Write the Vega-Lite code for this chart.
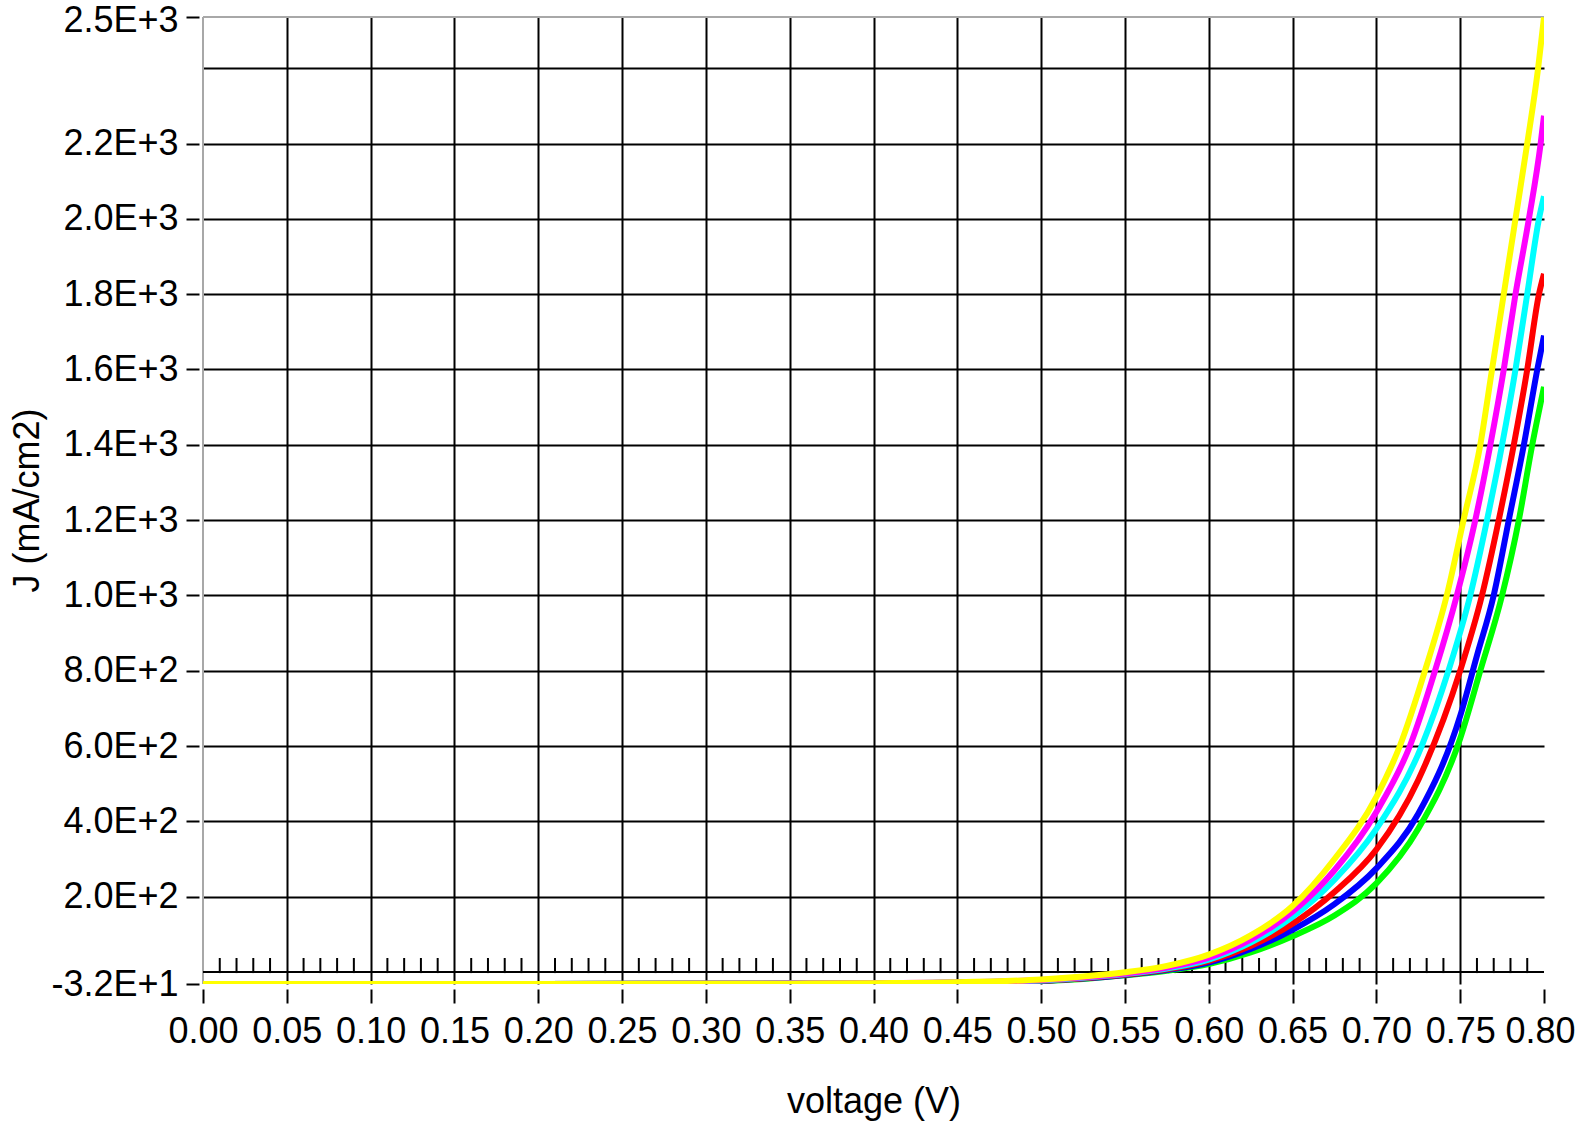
{
  "$schema": "https://vega.github.io/schema/vega-lite/v6.json",
  "width": 1341,
  "height": 967,
  "autosize": "none",
  "padding": {"left": 203, "top": 17, "right": 31, "bottom": 142},
  "background": "white",
  "config": {"view": {"stroke": null}, "font": "Liberation Sans"},
  "datasets": {
    "curves": [
      {"s": "green", "v": 0, "j": -32}, {"s": "green", "v": 0.1, "j": -32}, {"s": "green", "v": 0.2, "j": -31.9}, {"s": "green", "v": 0.3, "j": -31.3}, {"s": "green", "v": 0.35, "j": -31}, {"s": "green", "v": 0.4, "j": -30.4}, {"s": "green", "v": 0.45, "j": -29.2}, {"s": "green", "v": 0.5, "j": -24.5}, {"s": "green", "v": 0.525, "j": -18.5}, {"s": "green", "v": 0.55, "j": -9}, {"s": "green", "v": 0.575, "j": 3}, {"s": "green", "v": 0.6, "j": 21}, {"s": "green", "v": 0.625, "j": 52}, {"s": "green", "v": 0.65, "j": 95}, {"s": "green", "v": 0.675, "j": 150}, {"s": "green", "v": 0.7, "j": 235}, {"s": "green", "v": 0.725, "j": 380}, {"s": "green", "v": 0.75, "j": 620}, {"s": "green", "v": 0.762, "j": 800}, {"s": "green", "v": 0.775, "j": 1000}, {"s": "green", "v": 0.785, "j": 1200}, {"s": "green", "v": 0.793, "j": 1400}, {"s": "green", "v": 0.8, "j": 1554},
      {"s": "blue", "v": 0, "j": -32}, {"s": "blue", "v": 0.1, "j": -32}, {"s": "blue", "v": 0.2, "j": -31.9}, {"s": "blue", "v": 0.3, "j": -31.5}, {"s": "blue", "v": 0.35, "j": -31.1}, {"s": "blue", "v": 0.4, "j": -30.3}, {"s": "blue", "v": 0.45, "j": -29}, {"s": "blue", "v": 0.5, "j": -24}, {"s": "blue", "v": 0.525, "j": -17.5}, {"s": "blue", "v": 0.55, "j": -8}, {"s": "blue", "v": 0.575, "j": 5}, {"s": "blue", "v": 0.6, "j": 25}, {"s": "blue", "v": 0.625, "j": 61}, {"s": "blue", "v": 0.65, "j": 112}, {"s": "blue", "v": 0.675, "j": 180}, {"s": "blue", "v": 0.7, "j": 275}, {"s": "blue", "v": 0.725, "j": 420}, {"s": "blue", "v": 0.75, "j": 680}, {"s": "blue", "v": 0.76, "j": 840}, {"s": "blue", "v": 0.77, "j": 1000}, {"s": "blue", "v": 0.779, "j": 1200}, {"s": "blue", "v": 0.788, "j": 1400}, {"s": "blue", "v": 0.796, "j": 1600}, {"s": "blue", "v": 0.8, "j": 1690},
      {"s": "red", "v": 0, "j": -32}, {"s": "red", "v": 0.1, "j": -32}, {"s": "red", "v": 0.2, "j": -31.9}, {"s": "red", "v": 0.3, "j": -31.5}, {"s": "red", "v": 0.35, "j": -31.1}, {"s": "red", "v": 0.4, "j": -30.2}, {"s": "red", "v": 0.45, "j": -28.5}, {"s": "red", "v": 0.5, "j": -23}, {"s": "red", "v": 0.525, "j": -16.5}, {"s": "red", "v": 0.55, "j": -7}, {"s": "red", "v": 0.575, "j": 7}, {"s": "red", "v": 0.6, "j": 29}, {"s": "red", "v": 0.625, "j": 69}, {"s": "red", "v": 0.65, "j": 128}, {"s": "red", "v": 0.675, "j": 212}, {"s": "red", "v": 0.7, "j": 325}, {"s": "red", "v": 0.725, "j": 510}, {"s": "red", "v": 0.75, "j": 800}, {"s": "red", "v": 0.763, "j": 1000}, {"s": "red", "v": 0.773, "j": 1200}, {"s": "red", "v": 0.782, "j": 1400}, {"s": "red", "v": 0.79, "j": 1600}, {"s": "red", "v": 0.797, "j": 1800}, {"s": "red", "v": 0.8, "j": 1854},
      {"s": "cyan", "v": 0, "j": -32}, {"s": "cyan", "v": 0.1, "j": -32}, {"s": "cyan", "v": 0.2, "j": -31.9}, {"s": "cyan", "v": 0.3, "j": -31.4}, {"s": "cyan", "v": 0.35, "j": -31}, {"s": "cyan", "v": 0.4, "j": -30.1}, {"s": "cyan", "v": 0.45, "j": -28.2}, {"s": "cyan", "v": 0.5, "j": -22.5}, {"s": "cyan", "v": 0.525, "j": -15.5}, {"s": "cyan", "v": 0.55, "j": -5.5}, {"s": "cyan", "v": 0.575, "j": 9}, {"s": "cyan", "v": 0.6, "j": 33}, {"s": "cyan", "v": 0.625, "j": 78}, {"s": "cyan", "v": 0.65, "j": 146}, {"s": "cyan", "v": 0.675, "j": 245}, {"s": "cyan", "v": 0.7, "j": 380}, {"s": "cyan", "v": 0.727, "j": 600}, {"s": "cyan", "v": 0.743, "j": 800}, {"s": "cyan", "v": 0.756, "j": 1000}, {"s": "cyan", "v": 0.766, "j": 1200}, {"s": "cyan", "v": 0.775, "j": 1400}, {"s": "cyan", "v": 0.783, "j": 1600}, {"s": "cyan", "v": 0.79, "j": 1800}, {"s": "cyan", "v": 0.797, "j": 2000}, {"s": "cyan", "v": 0.8, "j": 2060},
      {"s": "magenta", "v": 0, "j": -32}, {"s": "magenta", "v": 0.1, "j": -32}, {"s": "magenta", "v": 0.2, "j": -31.9}, {"s": "magenta", "v": 0.3, "j": -31.5}, {"s": "magenta", "v": 0.35, "j": -31}, {"s": "magenta", "v": 0.4, "j": -30}, {"s": "magenta", "v": 0.45, "j": -28}, {"s": "magenta", "v": 0.5, "j": -21.5}, {"s": "magenta", "v": 0.525, "j": -14}, {"s": "magenta", "v": 0.55, "j": -4}, {"s": "magenta", "v": 0.575, "j": 12}, {"s": "magenta", "v": 0.6, "j": 38}, {"s": "magenta", "v": 0.625, "j": 86}, {"s": "magenta", "v": 0.65, "j": 160}, {"s": "magenta", "v": 0.675, "j": 270}, {"s": "magenta", "v": 0.7, "j": 425}, {"s": "magenta", "v": 0.72, "j": 600}, {"s": "magenta", "v": 0.735, "j": 800}, {"s": "magenta", "v": 0.748, "j": 1000}, {"s": "magenta", "v": 0.759, "j": 1200}, {"s": "magenta", "v": 0.768, "j": 1400}, {"s": "magenta", "v": 0.776, "j": 1600}, {"s": "magenta", "v": 0.783, "j": 1800}, {"s": "magenta", "v": 0.791, "j": 2000}, {"s": "magenta", "v": 0.798, "j": 2200}, {"s": "magenta", "v": 0.8, "j": 2274},
      {"s": "yellow", "v": 0, "j": -32}, {"s": "yellow", "v": 0.1, "j": -32}, {"s": "yellow", "v": 0.2, "j": -31.9}, {"s": "yellow", "v": 0.3, "j": -31.6}, {"s": "yellow", "v": 0.35, "j": -31.1}, {"s": "yellow", "v": 0.4, "j": -29.8}, {"s": "yellow", "v": 0.45, "j": -27.5}, {"s": "yellow", "v": 0.5, "j": -20}, {"s": "yellow", "v": 0.525, "j": -12}, {"s": "yellow", "v": 0.55, "j": -1}, {"s": "yellow", "v": 0.575, "j": 16}, {"s": "yellow", "v": 0.6, "j": 46}, {"s": "yellow", "v": 0.625, "j": 97}, {"s": "yellow", "v": 0.65, "j": 175}, {"s": "yellow", "v": 0.675, "j": 300}, {"s": "yellow", "v": 0.7, "j": 465}, {"s": "yellow", "v": 0.714, "j": 600}, {"s": "yellow", "v": 0.729, "j": 800}, {"s": "yellow", "v": 0.742, "j": 1000}, {"s": "yellow", "v": 0.752, "j": 1200}, {"s": "yellow", "v": 0.762, "j": 1400}, {"s": "yellow", "v": 0.769, "j": 1600}, {"s": "yellow", "v": 0.776, "j": 1800}, {"s": "yellow", "v": 0.783, "j": 2000}, {"s": "yellow", "v": 0.79, "j": 2200}, {"s": "yellow", "v": 0.7965, "j": 2400}, {"s": "yellow", "v": 0.8, "j": 2535}
    ],
    "minor": [
      {"v": 0.01}, {"v": 0.02}, {"v": 0.03}, {"v": 0.04}, {"v": 0.06}, {"v": 0.07}, {"v": 0.08}, {"v": 0.09},
      {"v": 0.11}, {"v": 0.12}, {"v": 0.13}, {"v": 0.14}, {"v": 0.16}, {"v": 0.17}, {"v": 0.18}, {"v": 0.19},
      {"v": 0.21}, {"v": 0.22}, {"v": 0.23}, {"v": 0.24}, {"v": 0.26}, {"v": 0.27}, {"v": 0.28}, {"v": 0.29},
      {"v": 0.31}, {"v": 0.32}, {"v": 0.33}, {"v": 0.34}, {"v": 0.36}, {"v": 0.37}, {"v": 0.38}, {"v": 0.39},
      {"v": 0.41}, {"v": 0.42}, {"v": 0.43}, {"v": 0.44}, {"v": 0.46}, {"v": 0.47}, {"v": 0.48}, {"v": 0.49},
      {"v": 0.51}, {"v": 0.52}, {"v": 0.53}, {"v": 0.54}, {"v": 0.56}, {"v": 0.57}, {"v": 0.58}, {"v": 0.59},
      {"v": 0.61}, {"v": 0.62}, {"v": 0.63}, {"v": 0.64}, {"v": 0.66}, {"v": 0.67}, {"v": 0.68}, {"v": 0.69},
      {"v": 0.71}, {"v": 0.72}, {"v": 0.73}, {"v": 0.74}, {"v": 0.76}, {"v": 0.77}, {"v": 0.78}, {"v": 0.79}
    ],
    "one": [{"k": 1}]
  },
  "layer": [
    {
      "data": {"name": "one"},
      "mark": {"type": "rule", "color": "#a8a8a8", "strokeWidth": 2},
      "encoding": {"x": {"datum": 0, "type": "quantitative"}}
    },
    {
      "data": {"name": "one"},
      "mark": {"type": "rule", "color": "#a8a8a8", "strokeWidth": 2},
      "encoding": {"y": {"datum": 2536, "type": "quantitative"}}
    },
    {
      "data": {"name": "one"},
      "mark": {"type": "rule", "color": "black", "strokeWidth": 2},
      "encoding": {"y": {"datum": 0, "type": "quantitative"}}
    },
    {
      "data": {"name": "minor"},
      "mark": {"type": "rule", "color": "black", "strokeWidth": 2},
      "encoding": {
        "x": {"field": "v", "type": "quantitative"},
        "y": {"datum": -3, "type": "quantitative"},
        "y2": {"datum": 37}
      }
    },
    {
      "data": {"name": "curves"},
      "mark": {"type": "line", "strokeWidth": 6, "interpolate": "monotone", "clip": true},
      "encoding": {
        "x": {
          "field": "v", "type": "quantitative",
          "scale": {"domain": [0, 0.8], "nice": false, "zero": false},
          "axis": {
            "values": [0, 0.05, 0.1, 0.15, 0.2, 0.25, 0.3, 0.35, 0.4, 0.45, 0.5, 0.55, 0.6, 0.65, 0.7, 0.75, 0.8],
            "format": ".2f",
            "title": "voltage (V)",
            "domain": false,
            "offset": 5,
            "tickSize": 14, "tickWidth": 2, "tickColor": "black",
            "labelFont": "Liberation Sans", "labelFontSize": 36, "labelColor": "black",
            "labelPadding": 11, "labelFlush": false, "labelOverlap": false,
            "labelOffset": {"condition": {"test": "datum.value > 0.79", "value": -4}, "value": 0},
            "grid": true, "gridWidth": 2,
            "gridColor": {"condition": {"test": "datum.value < 0.01 || datum.value > 0.79", "value": "transparent"}, "value": "black"},
            "titleFont": "Liberation Sans", "titleFontSize": 36, "titleFontWeight": "normal", "titleColor": "black",
            "titleBaseline": "alphabetic", "titleY": 123
          }
        },
        "y": {
          "field": "j", "type": "quantitative",
          "scale": {"domain": [-32, 2536], "nice": false, "zero": false},
          "axis": {
            "values": [-32, 200, 400, 600, 800, 1000, 1200, 1400, 1600, 1800, 2000, 2200, 2400, 2536],
            "labelExpr": "datum.value == 2400 ? '' : replace(replace(format(datum.value, '.1e'), 'e', 'E'), '\u2212', '-')",
            "title": "J (mA/cm2)",
            "domain": false,
            "offset": 4,
            "tickSize": 13, "tickWidth": 2,
            "tickColor": {"condition": {"test": "datum.value == 2400", "value": "transparent"}, "value": "black"},
            "labelFont": "Liberation Sans", "labelFontSize": 36, "labelColor": "black",
            "labelPadding": 8, "labelFlush": false, "labelOverlap": false,
            "labelOffset": {"condition": {"test": "datum.value > 2500", "value": 3}, "value": 0},
            "grid": true, "gridWidth": 2,
            "gridColor": {"condition": {"test": "datum.value < 0 || datum.value > 2450", "value": "transparent"}, "value": "black"},
            "titleFont": "Liberation Sans", "titleFontSize": 36, "titleFontWeight": "normal", "titleColor": "black",
            "titleBaseline": "alphabetic", "titleX": -161, "titleY": 483
          }
        },
        "color": {
          "field": "s", "type": "nominal", "legend": null,
          "scale": {"domain": ["green", "blue", "red", "cyan", "magenta", "yellow"], "range": ["#00ff00", "#0000ff", "#ff0000", "#00ffff", "#ff00ff", "#ffff00"]}
        }
      }
    }
  ]
}
